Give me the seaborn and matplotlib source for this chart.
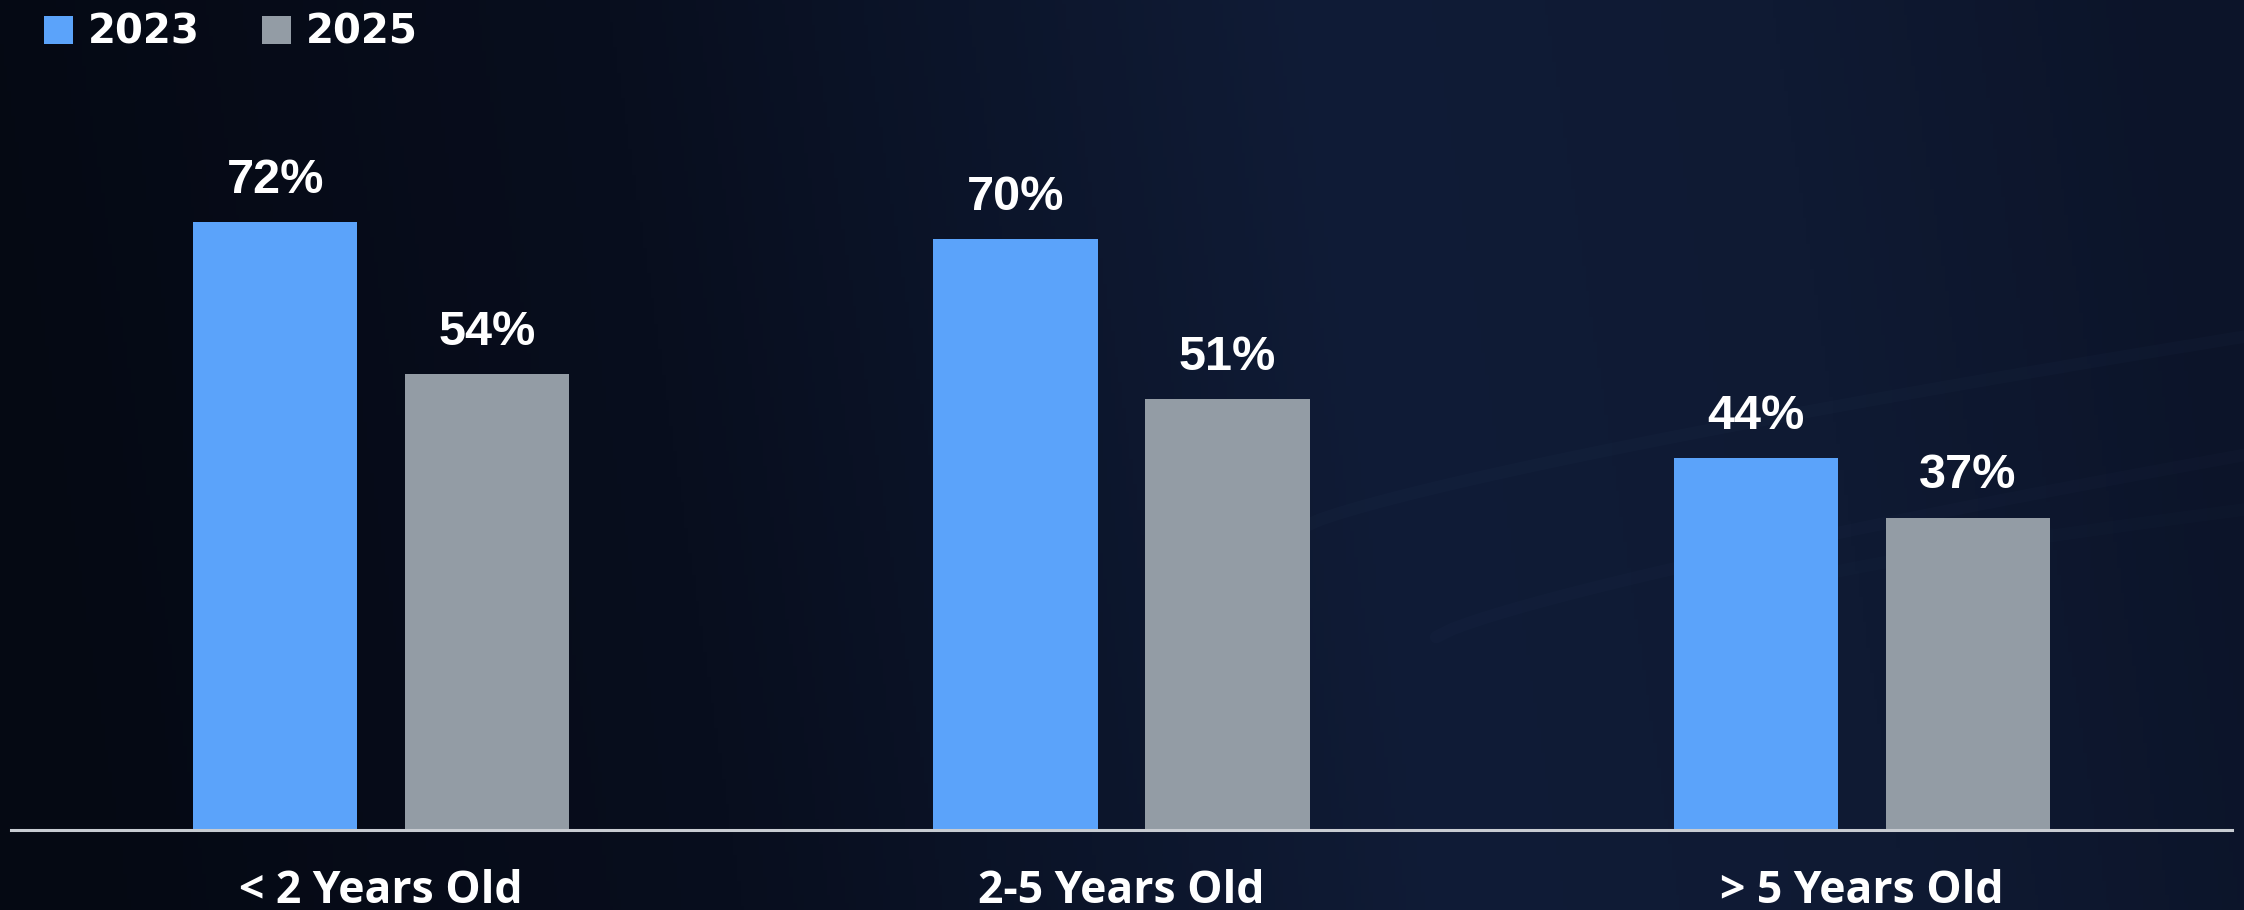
import numpy as np
import pandas as pd
import matplotlib
matplotlib.use("Agg")
import matplotlib.pyplot as plt
import seaborn as sns
from matplotlib.colors import LinearSegmentedColormap
from matplotlib.patches import Patch

# ---- data ----
categories = ["< 2 Years Old", "2-5 Years Old", "> 5 Years Old"]
years = ["2023", "2025"]
values_2023 = [72, 70, 44]
values_2025 = [54, 51, 37]
colors = {"2023": "#5BA3FA", "2025": "#939CA5"}

df = pd.DataFrame({
    "category": categories * 2,
    "year": [years[0]] * 3 + [years[1]] * 3,
    "value": values_2023 + values_2025,
})

sns.set_theme(style="white")
plt.rcParams["font.family"] = ["Liberation Sans", "DejaVu Sans"]

W, H = 2244, 910
fig = plt.figure(figsize=(W / 100, H / 100), dpi=100)

# ---- background gradient ----
bg = fig.add_axes([0, 0, 1, 1], zorder=-10)
bg.set_axis_off()
cmap = LinearSegmentedColormap.from_list(
    "bg", [(0.0, "#050913"), (0.30, "#080e1e"), (0.62, "#101c37"),
           (0.82, "#0f1a33"), (1.0, "#0c1429")])
xs = np.linspace(0, 1, 600)
ys = np.linspace(0, 1, 250)
X, Y = np.meshgrid(xs, ys)
Z = X + 0.06 * (Y - 0.5)
bg.imshow(Z, cmap=cmap, aspect="auto", extent=[0, 1, 0, 1], origin="lower",
          vmin=0, vmax=1)
# faint streaks
for (x0, y0, x1, y1, a) in [(0.58, 0.42, 1.0, 0.63, 0.025), (0.64, 0.30, 1.0, 0.50, 0.02),
                            (0.80, 0.36, 1.0, 0.44, 0.015)]:
    t = np.linspace(0, 1, 50)
    bg.plot(x0 + (x1 - x0) * t, y0 + (y1 - y0) * t ** 0.8, color="#8aa6d8",
            alpha=a, lw=9, solid_capstyle="round")
bg.set_xlim(0, 1)
bg.set_ylim(0, 1)

# ---- main axes ----
ax_left = 11 / W
ax_right = 2232 / W
ax_bottom = 1 - 830 / H
ax = fig.add_axes([ax_left, ax_bottom, ax_right - ax_left, 1 - ax_bottom])
ax.patch.set_alpha(0)

sns.barplot(data=df, x="category", y="value", hue="year", order=categories,
            hue_order=years, palette=colors, width=0.572, gap=0.224,
            saturation=1, ax=ax, legend=False, errorbar=None, linewidth=0)

ax.set_xlim(-0.5, 2.5)
ax.set_ylim(0, 98.3)
ax.set_xlabel("")
ax.set_ylabel("")
ax.set_yticks([])
for s in ["top", "right", "left"]:
    ax.spines[s].set_visible(False)
ax.spines["bottom"].set_color("#c8ccd2")
ax.spines["bottom"].set_linewidth(2.2)
ax.tick_params(axis="x", length=0, pad=28, labelsize=32, labelcolor="white")
for lab in ax.get_xticklabels():
    lab.set_fontfamily(["Open Sans", "DejaVu Sans"])
    lab.set_fontweight("bold")

for cont in ax.containers:
    ax.bar_label(cont, labels=[f"{int(v)}%" for v in cont.datavalues],
                 padding=14, color="white", fontsize=35, fontweight="bold")

# ---- legend ----
handles = [Patch(facecolor=colors[y], edgecolor="none", label=y) for y in years]
leg = fig.legend(handles=handles, loc="upper left", bbox_to_anchor=(44 / W, 1 - 13 / H),
                 ncol=2, frameon=False, handlelength=0.72,
                 handleheight=0.72, handletextpad=0.36, columnspacing=1.55,
                 borderpad=0, borderaxespad=0,
                 prop={"family": "DejaVu Sans", "weight": "bold", "size": 29})
for t in leg.get_texts():
    t.set_color("white")

fig.savefig("out.png", dpi=100)
